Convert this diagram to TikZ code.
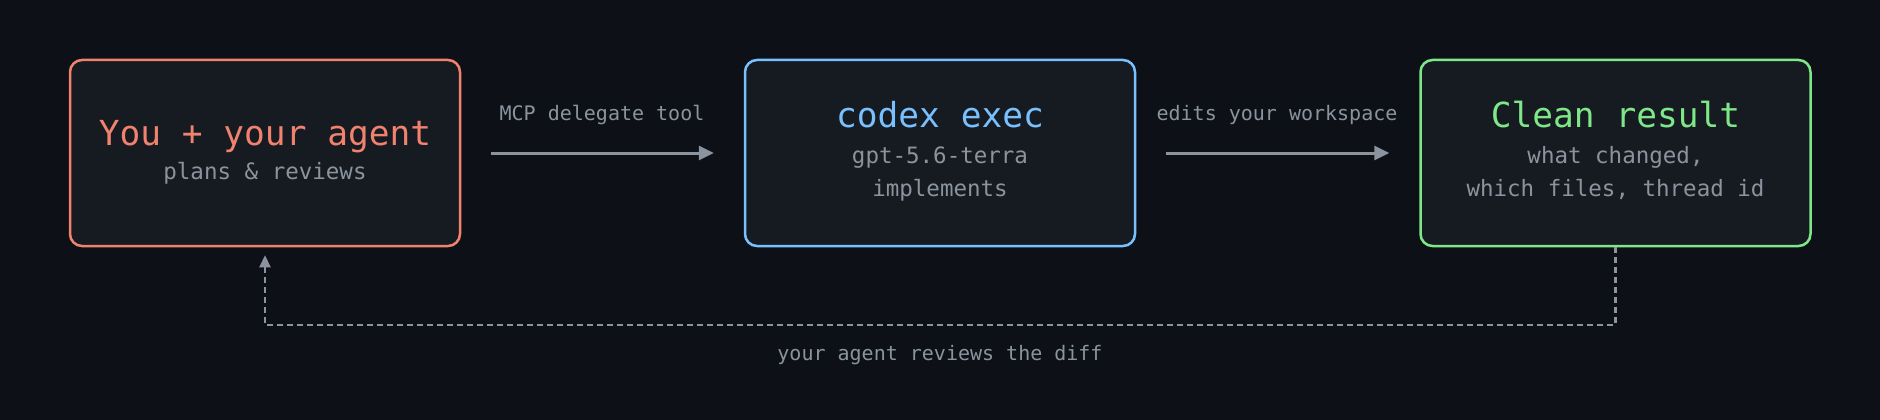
\documentclass[tikz,border=0pt]{standalone}
\usepackage{fontspec}
\newfontfamily\monofont{DejaVu Sans Mono}
\usetikzlibrary{arrows.meta}
\definecolor{bgc}{HTML}{0D1117}
\definecolor{boxfill}{HTML}{161B22}
\definecolor{salmon}{HTML}{F0826E}
\definecolor{skyblue}{HTML}{79C0FF}
\definecolor{mint}{HTML}{7EE787}
\definecolor{greytext}{HTML}{8B949E}
\tikzset{
  panel/.style={draw, line width=2.5pt, fill=boxfill, rounded corners=12pt,
    minimum width=390pt, minimum height=186pt, inner sep=0pt},
  ttl/.style={anchor=base, inner sep=0pt, font=\monofont\fontsize{34.5}{40}\selectfont},
  sub/.style={anchor=base, inner sep=0pt, text=greytext, font=\monofont\fontsize{22.5}{27}\selectfont},
  elabel/.style={anchor=base, inner sep=0pt, text=greytext, font=\monofont\fontsize{20}{24}\selectfont},
  flow/.style={draw=greytext, line width=3pt, -{Triangle[length=15pt,width=14pt]},
    shorten <=30pt, shorten >=30pt},
  back/.style={draw=greytext, line width=2.2pt, dash pattern=on 6pt off 4pt,
    -{Triangle[length=12pt,width=11pt]}, shorten >=8pt},
}
\begin{document}
\begin{tikzpicture}[x=1pt,y=-1pt]
\fill[bgc] (0,0) rectangle (1880,420);
\useasboundingbox (0,0) rectangle (1880,420);

\node[panel, draw=salmon] (you) at (265,153) {};
\node[panel, draw=skyblue] (codex) at (940,153) {};
\node[panel, draw=mint] (clean) at (1615.5,153) {};

\node[ttl, text=salmon] (youT) at (265,145) {You + your agent};
\node[sub] (youS) at (265,179) {plans \& reviews};

\node[ttl, text=skyblue] (codexT) at (940,128) {codex exec};
\node[sub] (codexS1) at (940,163) {gpt-5.6-terra};
\node[sub] (codexS2) at (940,196) {implements};

\node[ttl, text=mint] (cleanT) at (1615.5,128) {Clean result};
\node[sub] (cleanS1) at (1615.5,163) {what changed,};
\node[sub] (cleanS2) at (1615.5,196) {which files, thread id};

\draw[flow] (you.east) -- (codex.west);
\draw[flow] (codex.east) -- (clean.west);
\node[elabel] (l1) at (602,120) {MCP delegate tool};
\node[elabel] (l2) at (1277,120) {edits your workspace};

\coordinate (c1) at (1615.5,325);
\coordinate (c2) at (265,325);
\draw[back] (clean.south) -- (c1) -- (c2) -- (you.south);
\node[elabel] (l3) at (940,360) {your agent reviews the diff};
\end{tikzpicture}
\end{document}
